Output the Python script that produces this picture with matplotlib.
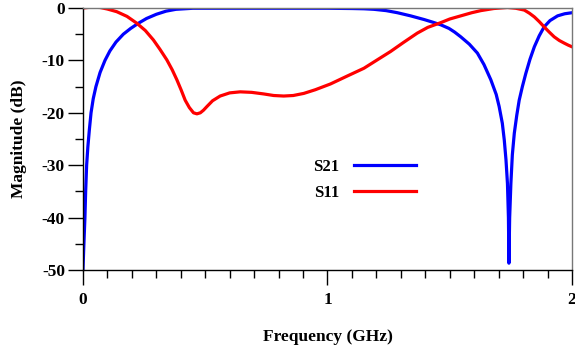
import numpy as np
import matplotlib.pyplot as plt

# S21 (transmission), GHz / dB
s21_freq = [0.0, 0.003, 0.008, 0.011, 0.015, 0.02, 0.026, 0.033, 0.042, 0.053,
            0.07, 0.09, 0.11, 0.135, 0.165, 0.195, 0.227, 0.26, 0.3, 0.34,
            0.38, 0.45, 0.6, 0.9, 1.0, 1.1, 1.15,
            1.19, 1.24, 1.286, 1.34, 1.395, 1.43, 1.463, 1.497, 1.52, 1.545,
            1.58, 1.613, 1.64, 1.668, 1.69, 1.702, 1.715, 1.723, 1.73, 1.736,
            1.74, 1.742, 1.745, 1.75, 1.756, 1.764, 1.774, 1.784, 1.797,
            1.811, 1.828, 1.846, 1.866, 1.886, 1.91, 1.941, 1.97, 2.0]
s21_db = [-50.0, -46.0, -40.0, -35.0, -30.0, -26.5, -23.3, -20.0, -17.3, -15.0,
          -12.3, -10.0, -8.2, -6.5, -5.0, -3.9, -2.9, -2.0, -1.2, -0.6,
          -0.25, -0.05, -0.05, -0.05, -0.05, -0.1, -0.15,
          -0.25, -0.5, -0.9, -1.5, -2.2, -2.7, -3.2, -3.9, -4.6, -5.5,
          -6.9, -8.6, -10.8, -13.7, -16.5, -18.8, -22.0, -25.2, -29.0, -33.5,
          -40.0, -48.7, -40.0, -33.5, -28.0, -23.9, -20.5, -17.6, -15.0,
          -12.5, -9.8, -7.4, -5.3, -3.6, -2.4, -1.5, -1.1, -0.9]

# S11 (reflection)
s11_freq = [0.0, 0.02, 0.04, 0.07, 0.1, 0.138, 0.18, 0.22, 0.255, 0.288,
            0.315, 0.343, 0.365, 0.384, 0.402, 0.418, 0.435, 0.452, 0.466,
            0.48, 0.493, 0.507, 0.53, 0.561, 0.6, 0.643, 0.69, 0.739, 0.78,
            0.821, 0.86, 0.903, 0.95, 1.012, 1.08, 1.149, 1.2, 1.258, 1.31,
            1.367, 1.41, 1.463, 1.5, 1.545, 1.59, 1.627, 1.68, 1.736, 1.77,
            1.805, 1.826, 1.846, 1.866, 1.886, 1.907, 1.927, 1.948, 1.968,
            1.985, 2.0]
s11_db = [0.0, 0.1, 0.15, 0.1, -0.2, -0.7, -1.6, -2.9, -4.3, -6.1,
          -7.9, -9.9, -11.8, -13.7, -15.7, -17.6, -19.0, -20.0, -20.2,
          -20.0, -19.5, -18.8, -17.7, -16.8, -16.2, -16.0, -16.1, -16.4, -16.7,
          -16.8, -16.7, -16.3, -15.6, -14.5, -13.0, -11.5, -10.0, -8.3, -6.6,
          -4.8, -3.7, -2.8, -2.1, -1.5, -0.9, -0.5, -0.1, 0.1, -0.05,
          -0.4, -1.0, -1.7, -2.6, -3.6, -4.6, -5.5, -6.2, -6.7,
          -7.1, -7.4]

plt.rcParams['font.family'] = ['Liberation Serif', 'DejaVu Serif']
plt.rcParams['font.weight'] = 'bold'
plt.rcParams['axes.unicode_minus'] = False

fig = plt.figure(figsize=(5.75, 3.51), dpi=100)
ax = fig.add_axes([0.1443, 0.2308, 0.8505, 0.7464])

ax.plot(s21_freq, s21_db, color='#0000ff', lw=2.3, label='S21')
ax.plot(s11_freq, s11_db, color='#ff0000', lw=2.3, label='S11')

ax.set_xlim(0, 2)
ax.set_ylim(-50, 0)
ax.set_xticks([0, 1, 2])
ax.set_xticks(np.arange(0, 2.01, 0.1), minor=True)
ax.set_yticks([-50, -40, -30, -20, -10, 0])
ax.set_yticks(np.arange(-50, 1, 5), minor=True)

ax.tick_params(which='major', length=11, width=1, direction='out', labelsize=12.5)
ax.tick_params(axis='x', which='major', pad=5)
ax.tick_params(axis='y', which='major', pad=2)
ax.tick_params(which='minor', length=5.5, width=1, direction='out')

for side in ['top', 'right']:
    ax.spines[side].set_color('#777777')
    ax.spines[side].set_linewidth(1)
for side in ['left', 'bottom']:
    ax.spines[side].set_linewidth(1)

ax.set_xlabel('Frequency (GHz)', fontsize=12.5, fontweight='bold', labelpad=15)
ax.set_ylabel('Magnitude (dB)', fontsize=12.5, fontweight='bold', labelpad=11)

ax.legend(loc='center left', bbox_to_anchor=(0.47, 0.343), frameon=False,
          markerfirst=False, handlelength=3.7, handletextpad=0.9,
          borderpad=0, borderaxespad=0, labelspacing=0.6,
          prop={'size': 12, 'weight': 'bold'})

fig.savefig('out.png', dpi=100)
